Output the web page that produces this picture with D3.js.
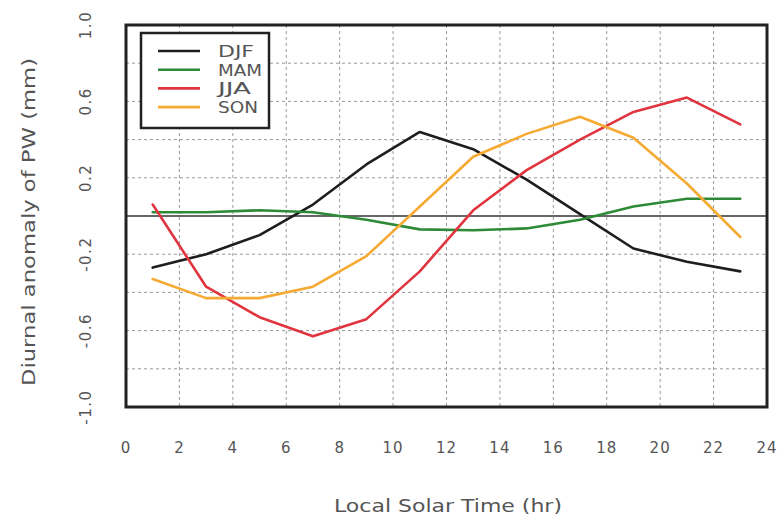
<!DOCTYPE html>
<html>
<head>
<meta charset="utf-8">
<script src="https://cdn.jsdelivr.net/npm/d3@7"></script>
<style>
  body { margin: 0; background: #fff; }
  svg { display: block; }
  text { font-family: "DejaVu Sans", Verdana, sans-serif; }
</style>
</head>
<body>
<svg id="chart" width="784" height="520"></svg>
<script>
const hours = [1, 3, 5, 7, 9, 11, 13, 15, 17, 19, 21, 23];
const seriesNames = ["DJF", "MAM", "JJA", "SON"];
const djf = [-0.27, -0.20, -0.10, 0.06, 0.27, 0.44, 0.35, 0.19, 0.01, -0.17, -0.24, -0.29];
const mam = [0.02, 0.02, 0.03, 0.02, -0.02, -0.07, -0.075, -0.065, -0.02, 0.05, 0.09, 0.09];
const jja = [0.06, -0.37, -0.53, -0.63, -0.54, -0.29, 0.03, 0.24, 0.40, 0.545, 0.62, 0.48];
const son = [-0.33, -0.43, -0.43, -0.37, -0.21, 0.05, 0.31, 0.43, 0.52, 0.41, 0.17, -0.11];
const xTicks = [0, 2, 4, 6, 8, 10, 12, 14, 16, 18, 20, 22, 24];
const yTickLabels = [1.0, 0.6, 0.2, -0.2, -0.6, -1.0];
const yGrid = [-0.8, -0.6, -0.4, -0.2, 0.2, 0.4, 0.6, 0.8];
const colors = ["#1e1e1e", "#2e8a36", "#e0353f", "#f6aa33"];
const xLabel = "Local Solar Time (hr)";
const yLabel = "Diurnal anomaly of PW (mm)";

const values = [djf, mam, jja, son];
const svg = d3.select("#chart");
const L = 126, R = 767, T = 25, B = 407;
const x = d3.scaleLinear().domain([0, 24]).range([L, R]);
const y = d3.scaleLinear().domain([-1, 1]).range([B, T]);

// grid
const grid = svg.append("g").attr("stroke", "#9a9a9a").attr("stroke-width", 1).attr("stroke-dasharray", "3,3");
grid.selectAll("line.v").data(xTicks.filter(d => d > 0 && d < 24)).enter().append("line")
  .attr("x1", d => x(d)).attr("x2", d => x(d)).attr("y1", T).attr("y2", B);
grid.selectAll("line.h").data(yGrid).enter().append("line")
  .attr("y1", d => y(d)).attr("y2", d => y(d)).attr("x1", L).attr("x2", R);

// zero line
svg.append("line").attr("x1", L).attr("x2", R).attr("y1", y(0)).attr("y2", y(0))
  .attr("stroke", "#333").attr("stroke-width", 1.6);

// series
const line = d3.line().x((d, i) => x(hours[i])).y(d => y(d));
svg.append("g").selectAll("path").data(values).enter().append("path")
  .attr("d", d => line(d)).attr("fill", "none")
  .attr("stroke", (d, i) => colors[i]).attr("stroke-width", 2.6)
  .attr("stroke-linejoin", "round").attr("stroke-linecap", "round");

// frame
svg.append("rect").attr("x", L).attr("y", T).attr("width", R - L).attr("height", B - T)
  .attr("fill", "none").attr("stroke", "#222").attr("stroke-width", 3);

// x axis ticks labels
svg.append("g").selectAll("text").data(xTicks).enter().append("text")
  .attr("x", d => x(d)).attr("y", 453).attr("text-anchor", "middle")
  .attr("font-size", 15).attr("fill", "#555").attr("letter-spacing", 1)
  .text(d => d);

// y tick labels (rotated)
svg.append("g").selectAll("text").data(yTickLabels).enter().append("text")
  .attr("transform", d => `translate(91,${y(d)}) rotate(-90)`)
  .attr("text-anchor", "middle").attr("font-size", 15).attr("fill", "#555")
  .attr("letter-spacing", 1.5)
  .text(d => d.toFixed(1));

// axis labels
svg.append("text").attr("x", 448).attr("y", 512).attr("text-anchor", "middle")
  .attr("font-size", 17).attr("fill", "#555")
  .attr("textLength", 228).attr("lengthAdjust", "spacingAndGlyphs")
  .text(xLabel);
svg.append("text").attr("transform", "translate(35,222) rotate(-90)")
  .attr("text-anchor", "middle").attr("font-size", 17).attr("fill", "#555")
  .attr("textLength", 328).attr("lengthAdjust", "spacingAndGlyphs")
  .text(yLabel);

// legend
const legendWidths = [36, 44, 33, 40];
const lg = svg.append("g");
lg.append("rect").attr("x", 141).attr("y", 33).attr("width", 128).attr("height", 95)
  .attr("fill", "#fff").attr("stroke", "#222").attr("stroke-width", 2.5);
const rows = lg.selectAll("g.row").data(seriesNames).enter().append("g")
  .attr("transform", (d, i) => `translate(0,${51 + i * 18.7})`);
rows.append("line").attr("x1", 158).attr("x2", 200).attr("y1", 0).attr("y2", 0)
  .attr("stroke", (d, i) => colors[i]).attr("stroke-width", 2.6);
rows.append("text").attr("x", 218).attr("y", 6).attr("font-size", 15).attr("fill", "#555")
  .attr("textLength", (d, i) => legendWidths[i]).attr("lengthAdjust", "spacingAndGlyphs")
  .text(d => d);
</script>
</body>
</html>
